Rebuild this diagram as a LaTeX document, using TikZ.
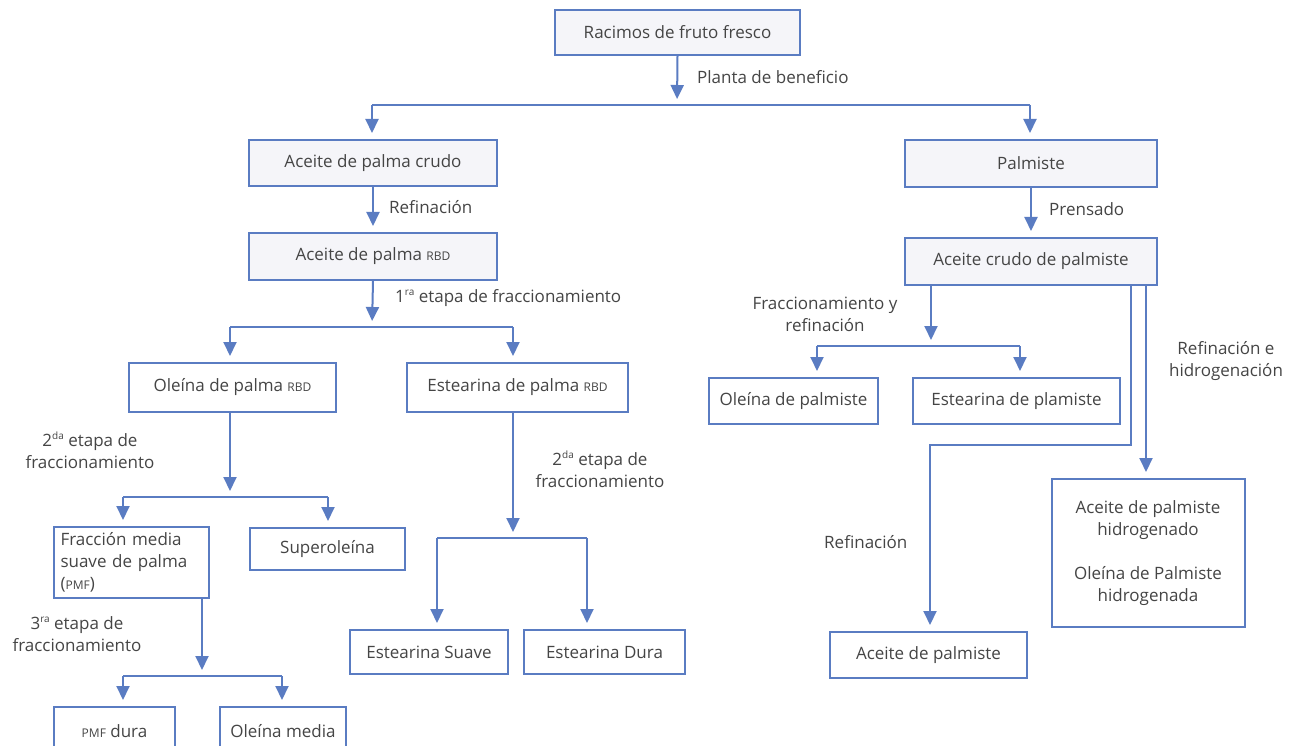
\documentclass[tikz,border=0pt]{standalone}
\usepackage{fontspec}
\setmainfont{Open Sans}
\usetikzlibrary{arrows.meta}
\definecolor{bl}{HTML}{5A7CC2}
\definecolor{fillg}{HTML}{F5F5F9}
\definecolor{txt}{HTML}{454545}
\newcommand\sca[1]{{\fontsize{12}{13}\selectfont #1}}
\newcommand\sps[1]{\raisebox{0.42em}{\fontsize{10}{11}\selectfont #1}}
\tikzset{
  box/.style={draw=bl, line width=2pt, fill=white, text=txt, inner sep=0pt, align=center},
  topbox/.style={box, fill=fillg},
  lbl/.style={text=txt, inner sep=0pt, align=center},
  ln/.style={draw=bl, line width=2pt},
  arr/.style={ln, -{Triangle[width=13pt,length=14pt]}, shorten >=6pt},
}
\begin{document}
\begin{tikzpicture}[x=1pt,y=-1pt,font=\fontsize{17}{22}\selectfont]
\useasboundingbox (0,0) rectangle (1291,746);
\fill[white] (0,0) rectangle (1291,746);
% boxes
\node[topbox, minimum width=245pt, minimum height=45pt] (rff) at (677.5,32.5) {Racimos de fruto fresco};
\node[topbox, minimum width=248pt, minimum height=46pt] (apc) at (373,163) {Aceite de palma crudo};
\node[topbox, minimum width=252pt, minimum height=47pt] (pal) at (1031,163.5) {Palmiste};
\node[topbox, minimum width=248pt, minimum height=47pt] (arbd) at (373,256.5) {Aceite de palma \sca{RBD}};
\node[box, minimum width=207pt, minimum height=49pt] (orbd) at (232.5,387.5) {Oleína de palma \sca{RBD}};
\node[box, minimum width=221pt, minimum height=49pt] (erbd) at (517.5,387.5) {Estearina de palma \sca{RBD}};
\node[box, minimum width=155pt, minimum height=71pt, text width=142pt, align=left] (pmf) at (131.5,562.5) {Fracción media\\suave de palma\\(\sca{PMF})};
\node[box, minimum width=155pt, minimum height=42pt] (sup) at (327.5,549) {Superoleína};
\node[box, minimum width=121pt, minimum height=48pt] (pmfd) at (114.5,731) {\sca{PMF} dura};
\node[box, minimum width=126pt, minimum height=48pt] (olm) at (283,731) {Oleína media};
\node[box, minimum width=158pt, minimum height=44pt] (es) at (429,652) {Estearina Suave};
\node[box, minimum width=161pt, minimum height=44pt] (ed) at (604.5,652) {Estearina Dura};
\node[topbox, minimum width=252pt, minimum height=47pt] (acp) at (1031,261.5) {Aceite crudo de palmiste};
\node[box, minimum width=169pt, minimum height=46pt] (olp) at (793.5,401) {Oleína de palmiste};
\node[box, minimum width=207pt, minimum height=46pt] (esp) at (1016.5,401) {Estearina de plamiste};
\node[box, minimum width=197pt, minimum height=46pt] (adp) at (928.5,655) {Aceite de palmiste};
\node[box, minimum width=193pt, minimum height=148pt] (hid) at (1148,553) {Aceite de palmiste\\hidrogenado\\[22pt]Oleína de Palmiste\\hidrogenada};
% junction coordinates
\coordinate (j1) at (677,105);
\coordinate (j1l) at (372,105);
\coordinate (j1r) at (1030,105);
\coordinate (j2) at (372,327);
\coordinate (j2l) at (230,327);
\coordinate (j2r) at (513,327);
\coordinate (j3) at (230,497);
\coordinate (j3l) at (123,497);
\coordinate (j3r) at (328,497);
\coordinate (j4) at (202,676);
\coordinate (j4l) at (123,676);
\coordinate (j4r) at (282,676);
\coordinate (j5) at (513,538);
\coordinate (j5l) at (437,538);
\coordinate (j5r) at (587,538);
\coordinate (j6) at (931,346);
\coordinate (j6l) at (817,346);
\coordinate (j6r) at (1020,346);
\coordinate (k1) at (1131,445);
\coordinate (k2) at (930,445);
% connectors
\draw[arr] (rff.south) -- (j1);
\draw[ln] (j1l) -- (j1r);
\draw[arr] (j1l) -- (j1l |- apc.north);
\draw[arr] (j1r) -- (j1r |- pal.north);
\draw[arr] (apc.south) -- (arbd.north);
\draw[arr] (arbd.south) -- (j2);
\draw[ln] (j2l) -- (j2r);
\draw[arr] (j2l) -- (j2l |- orbd.north);
\draw[arr] (j2r) -- (j2r |- erbd.north);
\draw[arr] (orbd.south -| j3) -- (j3);
\draw[ln] (j3l) -- (j3r);
\draw[arr] (j3l) -- (j3l |- pmf.north);
\draw[arr] (j3r) -- (j3r |- sup.north);
\draw[arr] (pmf.south -| j4) -- (j4);
\draw[ln] (j4l) -- (j4r);
\draw[arr] (j4l) -- (j4l |- pmfd.north);
\draw[arr] (j4r) -- (j4r |- olm.north);
\draw[arr] (erbd.south -| j5) -- (j5);
\draw[ln] (j5l) -- (j5r);
\draw[arr] (j5l) -- (j5l |- es.north);
\draw[arr] (j5r) -- (j5r |- ed.north);
\draw[arr] (pal.south) -- (acp.north);
\draw[arr] (acp.south -| j6) -- (j6);
\draw[ln] (j6l) -- (j6r);
\draw[arr] (j6l) -- (j6l |- olp.north);
\draw[arr] (j6r) -- (j6r |- esp.north);
\draw[arr] (acp.south -| k1) -- (k1) -- (k2) -- (k2 |- adp.north);
\draw[arr] (acp.south -| 1146,0) -- (hid.north -| 1146,0);
% labels
\node[lbl, anchor=west] (l1) at (697,77) {Planta de beneficio};
\node[lbl, anchor=west] (l2) at (389,207) {Refinación};
\node[lbl, anchor=west] (l3) at (395,298) {1\sps{ra} etapa de fraccionamiento};
\node[lbl] (l4) at (90,450) {2\sps{da} etapa de\\fraccionamiento};
\node[lbl] (l5) at (77,634) {3\sps{ra} etapa de\\fraccionamiento};
\node[lbl] (l6) at (600,469) {2\sps{da} etapa de\\fraccionamiento};
\node[lbl, anchor=west] (l7) at (1049,209) {Prensado};
\node[lbl] (l8) at (825,314) {Fraccionamiento y\\refinación};
\node[lbl, anchor=west] (l9) at (824,542) {Refinación};
\node[lbl] (l10) at (1226,361) {Refinación e\\hidrogenación};
\end{tikzpicture}
\end{document}
